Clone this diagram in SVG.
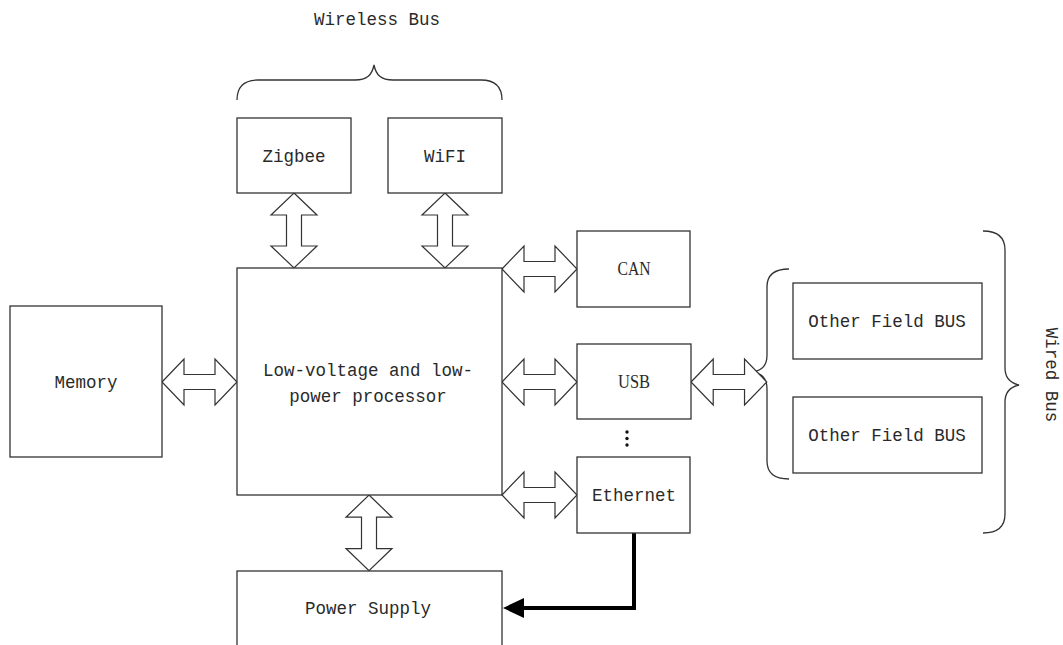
<svg xmlns="http://www.w3.org/2000/svg" xmlns:xlink="http://www.w3.org/1999/xlink" width="1063" height="645" viewBox="0 0 1063 645">
  <style>
    .box { fill: #fff; stroke: #333; stroke-width: 1.3; }
    .brace { fill: none; stroke: #333; stroke-width: 1.3; }
    .dbl { fill: #fff; stroke: #333; stroke-width: 1.2; stroke-linejoin: miter; }
    .mono { font-family: "Liberation Mono", "DejaVu Sans Mono", monospace; font-size: 17.5px; fill: #2a2a2a; text-anchor: middle; }
    .serif { font-family: "Liberation Serif", "Times New Roman", serif; font-size: 18px; fill: #2a2a2a; text-anchor: middle; }
  </style>
  <defs>
    <!-- hollow double-headed bus arrow, 75 px long, laid out along +x -->
    <path id="busArrow" d="M0,0 L22,-23 L22,-7.5 L53,-7.5 L53,-23 L75,0 L53,23 L53,7.5 L22,7.5 L22,23 Z"/>
  </defs>

  <rect width="1063" height="645" fill="#fff"/>

  <!-- braces and group labels -->
  <g id="wireless-bus">
    <path class="brace" d="M237,100 C237,88 243,80 258,80 L355,80 C367,80 372,75 374,65 C376,75 381,80 393,80 L481,80 C496,80 502,88 502,100"/>
    <text class="mono" x="377" y="25">Wireless Bus</text>
  </g>
  <g id="field-bus-brace">
    <path class="brace" d="M789,269 C775,269 767,275 767,287 L767,355 C767,366 762,370 753,372 C762,374 767,378 767,389 L767,461 C767,473 775,479 789,479"/>
  </g>
  <g id="wired-bus">
    <path class="brace" d="M983,231 C997,231 1005,237 1005,250 L1005,368 C1005,378 1010,383 1019,385 C1010,387 1005,392 1005,402 L1005,514 C1005,527 997,533 983,533"/>
    <text class="mono" transform="translate(1046,375) rotate(90)" x="0" y="0">Wired Bus</text>
  </g>

  <!-- connectors -->
  <g id="connectors">
    <use xlink:href="#busArrow" class="dbl" transform="translate(294,193) rotate(90)"/>
    <use xlink:href="#busArrow" class="dbl" transform="translate(445,193) rotate(90)"/>
    <use xlink:href="#busArrow" class="dbl" transform="translate(162,382)"/>
    <use xlink:href="#busArrow" class="dbl" transform="translate(502,269)"/>
    <use xlink:href="#busArrow" class="dbl" transform="translate(502,382)"/>
    <use xlink:href="#busArrow" class="dbl" transform="translate(691,382) scale(1.01,1)"/>
    <use xlink:href="#busArrow" class="dbl" transform="translate(502,495)"/>
    <use xlink:href="#busArrow" class="dbl" transform="translate(369,495) rotate(90) scale(1.01,1)"/>
    <!-- Ethernet to power supply feed -->
    <polyline points="634,533 634,608 521,608" fill="none" stroke="#000" stroke-width="4"/>
    <polygon points="503,608 524,598 524,618" fill="#000"/>
  </g>

  <!-- nodes -->
  <g id="zigbee">
    <rect class="box" x="237" y="118" width="114" height="75"/>
    <text class="mono" x="294" y="162">Zigbee</text>
  </g>
  <g id="wifi">
    <rect class="box" x="388" y="118" width="114" height="75"/>
    <text class="mono" x="445" y="162">WiFI</text>
  </g>
  <g id="processor">
    <rect class="box" x="237" y="268" width="265" height="227"/>
    <text class="mono" x="368" y="376">Low-voltage and low-</text>
    <text class="mono" x="368" y="402">power processor</text>
  </g>
  <g id="memory">
    <rect class="box" x="10" y="306" width="152" height="151"/>
    <text class="mono" x="86" y="388">Memory</text>
  </g>
  <g id="can">
    <rect class="box" x="577" y="231" width="113" height="76"/>
    <text class="serif" x="634" y="275" textLength="33" lengthAdjust="spacingAndGlyphs">CAN</text>
  </g>
  <g id="usb">
    <rect class="box" x="577" y="344" width="114" height="75"/>
    <text class="serif" x="634" y="388" textLength="32" lengthAdjust="spacingAndGlyphs">USB</text>
  </g>
  <g id="more-buses">
    <circle cx="627" cy="432" r="1.7" fill="#111"/>
    <circle cx="627" cy="438.5" r="1.7" fill="#111"/>
    <circle cx="627" cy="445" r="1.7" fill="#111"/>
  </g>
  <g id="ethernet">
    <rect class="box" x="577" y="457" width="113" height="76"/>
    <text class="mono" x="634" y="501">Ethernet</text>
  </g>
  <g id="field-bus-1">
    <rect class="box" x="793" y="283" width="189" height="76"/>
    <text class="mono" x="887" y="327">Other Field BUS</text>
  </g>
  <g id="field-bus-2">
    <rect class="box" x="793" y="397" width="189" height="76"/>
    <text class="mono" x="887" y="441">Other Field BUS</text>
  </g>
  <g id="power-supply">
    <rect class="box" x="237" y="571" width="265" height="90"/>
    <text class="mono" x="368" y="614">Power Supply</text>
  </g>
</svg>
